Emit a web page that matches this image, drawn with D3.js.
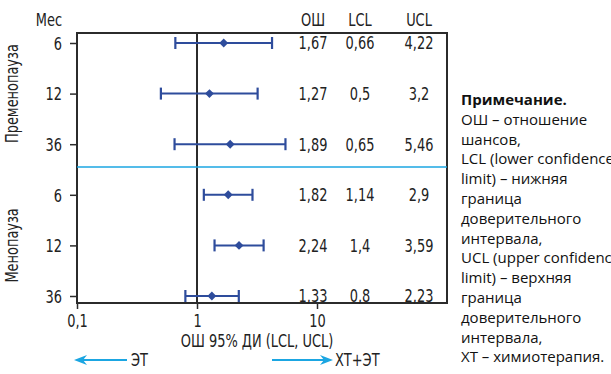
<!DOCTYPE html>
<html>
<head>
<meta charset="utf-8">
<script src="https://cdn.jsdelivr.net/npm/d3@7/dist/d3.min.js"></script>
<style>
  html, body { margin: 0; padding: 0; background: #fff; }
  svg { display: block; }
  .lbl { font-family: "DejaVu Sans Condensed", "Liberation Sans Narrow", sans-serif; font-size: 18px; fill: #222; }
  .note { font-family: "Open Sans", "Noto Sans", sans-serif; font-size: 15px; fill: #111; }
</style>
</head>
<body>
<svg id="chart" width="611" height="374"></svg>
<script>
// Odds ratios with 95% confidence limits by menopausal status and month
const groups = ["Пременопауза", "Менопауза"];
const months = ["6", "12", "36", "6", "12", "36"];
const rowGroup = [0, 0, 0, 1, 1, 1];
const oddsRatio = [1.67, 1.27, 1.89, 1.82, 2.24, 1.33];
const lowerCL = [0.66, 0.5, 0.65, 1.14, 1.4, 0.8];
const upperCL = [4.22, 3.2, 5.46, 2.9, 3.59, 2.23];
const xTicks = [0.1, 1, 10];
const xTickLabels = ["0,1", "1", "10"];
const tableHeaders = ["ОШ", "LCL", "UCL"];
const noteLines = [
  "ОШ – отношение",
  "шансов,",
  "LCL (lower confidence",
  "limit) – нижняя",
  "граница",
  "доверительного",
  "интервала,",
  "UCL (upper confidence",
  "limit) – верхняя",
  "граница",
  "доверительного",
  "интервала,",
  "ХТ – химиотерапия."
];

const svg = d3.select("#chart");
const box = { left: 77, right: 447, top: 33, bottom: 303 };
const SX = 0.8; // horizontal squeeze for the narrow label face

const x = d3.scaleLog().domain([0.1, 10]).range([77, 317]);
const y = d3.scalePoint().domain(d3.range(months.length)).range([43, 296]);
const fmt = v => String(v).replace(".", ",");

const dark = "#2b2b2b";
const markBlue = "#2e4c9c";
const lightBlue = "#1ba6e2";

function label(parent, px, py, txt, anchor, rot) {
  return parent.append("text").attr("class", "lbl")
    .attr("transform", `translate(${px},${py})${rot ? " rotate(-90)" : ""} scale(${SX},1)`)
    .attr("text-anchor", anchor || "start")
    .text(txt);
}

// Plot frame
svg.append("rect")
  .attr("x", box.left).attr("y", box.top)
  .attr("width", box.right - box.left).attr("height", box.bottom - box.top)
  .attr("fill", "none").attr("stroke", dark).attr("stroke-width", 2);

// Reference line at OR = 1
svg.append("line")
  .attr("x1", x(1)).attr("x2", x(1))
  .attr("y1", box.top).attr("y2", box.bottom)
  .attr("stroke", dark).attr("stroke-width", 2);

// Bottom axis
const xAxis = d3.axisBottom(x)
  .tickValues(xTicks)
  .tickFormat((d, i) => xTickLabels[i])
  .tickSize(6).tickSizeOuter(0);
const gx = svg.append("g").attr("transform", `translate(0,${box.bottom})`).call(xAxis);
gx.select(".domain").remove();
gx.selectAll(".tick line").attr("stroke", dark).attr("stroke-width", 1.5);
gx.selectAll(".tick text").attr("class", "lbl").attr("dy", null).attr("y", 24)
  .attr("transform", `scale(${SX},1)`);

label(svg, 257, 347, "ОШ 95% ДИ (LCL, UCL)", "middle");

// Left axis with month labels
const yAxis = d3.axisLeft(y).tickFormat(i => months[i]).tickSize(7).tickPadding(8);
const gy = svg.append("g").attr("transform", `translate(${box.left},0)`).call(yAxis);
gy.select(".domain").remove();
gy.selectAll(".tick line").attr("stroke", dark).attr("stroke-width", 1.5);
gy.selectAll(".tick text").attr("class", "lbl").attr("dy", "0.35em")
  .attr("x", -15 / SX).attr("transform", `scale(${SX},1)`);

label(svg, 62, 26, "Мес", "end");

// Group labels, rotated
groups.forEach((g, gi) => {
  const idx = d3.range(months.length).filter(i => rowGroup[i] === gi);
  const cy = d3.mean(idx, i => y(i));
  label(svg, 18, cy, g, "middle", true);
});

// Separator between groups
const sepY = y(2) + (y(3) - y(2)) * 0.45;
svg.append("line")
  .attr("x1", box.left).attr("x2", box.right)
  .attr("y1", sepY).attr("y2", sepY)
  .attr("stroke", lightBlue).attr("stroke-width", 1.5);

// Confidence intervals
const rows = svg.append("g").selectAll("g").data(d3.range(months.length)).join("g");
rows.append("line")
  .attr("x1", i => x(lowerCL[i])).attr("x2", i => x(upperCL[i]))
  .attr("y1", i => y(i)).attr("y2", i => y(i))
  .attr("stroke", markBlue).attr("stroke-width", 2);
[lowerCL, upperCL].forEach(arr => {
  rows.append("line")
    .attr("x1", i => x(arr[i])).attr("x2", i => x(arr[i]))
    .attr("y1", i => y(i) - 6).attr("y2", i => y(i) + 6)
    .attr("stroke", markBlue).attr("stroke-width", 2.2);
});
rows.append("path")
  .attr("d", d3.symbol(d3.symbolDiamond2, 50))
  .attr("transform", i => `translate(${x(oddsRatio[i])},${y(i)})`)
  .attr("fill", markBlue);

// Value table
const colX = [313, 360, 419];
const cols = [oddsRatio, lowerCL, upperCL];
tableHeaders.forEach((h, c) => {
  label(svg, colX[c], 26, h, "middle");
  rows.each(function (i) {
    label(d3.select(this), colX[c], y(i) + 6.3, fmt(cols[c][i]), "middle");
  });
});

// Direction arrows
function arrow(xFrom, xTo, yy) {
  const dir = Math.sign(xTo - xFrom);
  svg.append("line")
    .attr("x1", xFrom).attr("x2", xTo - dir * 8)
    .attr("y1", yy).attr("y2", yy)
    .attr("stroke", lightBlue).attr("stroke-width", 1.8);
  svg.append("path")
    .attr("d", `M${xTo},${yy} L${xTo - dir * 13},${yy - 5} L${xTo - dir * 9},${yy} L${xTo - dir * 13},${yy + 5} Z`)
    .attr("fill", lightBlue);
}
const arrowY = 360;
arrow(127, 74, arrowY);
label(svg, 131, arrowY + 6.3, "ЭТ", "start");
arrow(272, 333, arrowY);
label(svg, 335, arrowY + 6.3, "ХТ+ЭТ", "start");

// Note
const note = svg.append("text").attr("class", "note").attr("x", 461).attr("y", 105);
note.append("tspan").attr("x", 461).attr("font-weight", "bold").text("Примечание.");
noteLines.forEach(t => note.append("tspan").attr("x", 461).attr("dy", 19.8).text(t));
</script>
</body>
</html>
